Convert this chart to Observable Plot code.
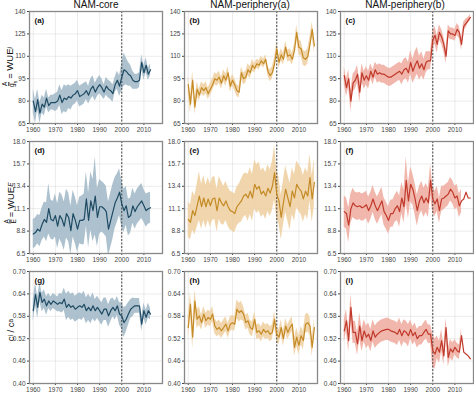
<!DOCTYPE html>
<html><head><meta charset="utf-8">
<script src="https://cdn.jsdelivr.net/npm/d3@7"></script>
<script src="https://cdn.jsdelivr.net/npm/@observablehq/plot@0.6"></script>
<style>
body{margin:0;background:#fff;font-family:"Liberation Sans",Arial,sans-serif;}
#fig{position:relative;width:474px;height:393px;overflow:hidden;}
.panel{position:absolute;}
.title{position:absolute;top:0px;font-size:10px;line-height:10px;color:#111;transform:translateX(-50%);white-space:nowrap;}
.ylab{position:absolute;font-size:9.5px;color:#111;transform:translate(-50%,-50%) rotate(-90deg);white-space:nowrap;display:flex;align-items:center;}
.frac{display:inline-flex;flex-direction:column;align-items:center;font-size:6.5px;line-height:6px;margin-right:2px;}
.frac span:first-child{border-bottom:0.6px solid #111;}
sub{font-size:6.5px;}
</style></head><body><div id="fig"></div><script>
const regions = ["NAM-core", "NAM-periphery(a)", "NAM-periphery(b)"];
const panelLabels = ["(a)","(b)","(c)","(d)","(e)","(f)","(g)","(h)","(i)"];
const xTicks = [1960, 1970, 1980, 1990, 2000, 2010];
const wueiTicks = [65, 80, 95, 110, 125, 140];
const wueeTicks = [6.5, 8.8, 11.1, 13.4, 15.7, 18.0];
const cicaTicks = [0.40, 0.46, 0.52, 0.58, 0.64, 0.70];
const breakYear = [2000];

// NAM-core: 1960-2013 ; periphery: 1960-2017
const coreWUEi = [80,73,81,72,78,76,82,77,79,79, 79,80,84,79,82,81,83,82,84,85, 87,83,84,85,87,84,88,90,86,89, 91,89,86,90,88,87,85,91,94,90, 96,101,100,98,97,94,93,93,94,106, 99,104,98,101];
const coreWUEiErr = [8,8,7,7,6,6,6,5,5,5, 6,6,7,8,9,9,8,8,7,7, 7,7,7,7,6,6,7,7,6,6, 6,6,5,6,6,6,6,5,6,7, 9,11,9,8,7,6,5,5,5,5, 5,5,4,4];
const perAWUEi = [91,78,94,76,88,84,89,87,89,85, 88,91,95,94,96,92,97,94,99,90, 94,91,87,86,99,95,96,101,99,104, 102,105,104,107,105,108,100,97,99,105, 115,106,111,108,116,110,111,108,114,126, 116,115,109,108,110,118,128,117];
const perAWUEiErr = [6,6,6,5,5,4,4,4,4,4, 4,4,4,4,4,4,4,4,4,4, 4,4,4,4,4,4,4,4,4,4, 3,3,3,3,3,3,3,4,4,4, 4,4,4,4,4,4,4,4,4,5, 5,5,5,5,5,5,5,5];
const perBWUEi = [97,89,95,80,92,94,98,86,99,94, 97,94,100,96,101,98,99,98,98,97, 96,96,97,98,99,100,98,101,102,99, 106,100,104,107,102,105,101,106,107,107, 121,124,118,126,123,118,110,127,125,125, 124,128,126,118,130,132,134,136];
const perBWUEiErr = [6,6,6,7,6,6,6,7,6,6, 6,6,5,5,5,6,6,6,6,6, 6,6,6,6,6,6,7,7,7,7, 8,8,9,9,8,8,7,7,6,6, 6,6,6,5,5,5,5,4,4,4, 4,4,4,4,3,3,2,2];

const coreWUEE = [8.5,8.65,9.0,8.8,9.5,10.0,9.7,11.1,10.0,9.85, 10.4,9.3,10.4,10.0,9.3,10.6,10.2,8.85,10.6,9.9, 9.0,9.9,9.9,10.0,12.1,9.9,11.9,10.9,12.4,10.2, 11.3,11.3,11.1,10.8,9.0,9.9,10.8,11.7,12.2,12.8, 11.6,10.9,11.4,10.2,10.4,11.4,10.8,11.3,11.6,11.9, 11.4,10.9,11.1,11.2];
const coreWUEEErr = [1.5,1.5,1.5,1.6,1.7,1.8,2.0,2.6,2.0,2.0, 2.2,2.3,2.4,2.5,2.5,2.5,2.5,2.5,2.4,2.4, 2.4,2.4,2.5,2.6,2.8,2.8,3.0,3.2,4.0,3.0, 2.8,2.6,2.6,2.6,2.8,2.8,2.8,2.6,2.5,2.4, 2.4,2.2,2.0,1.9,1.8,1.8,1.8,1.8,1.8,1.8, 1.7,1.7,1.6,1.6];
const perAWUEE = [10.0,9.7,10.9,10.4,11.4,12.4,11.3,12.2,11.3,12.1, 11.4,12.1,12.2,10.9,12.2,11.7,11.4,11.9,11.3,10.9, 10.8,10.6,11.3,11.6,11.9,12.4,12.6,12.2,12.9,12.2, 13.6,13.1,13.4,12.6,12.9,12.4,13.2,12.7,13.4,14.8, 12.6,11.9,10.2,11.7,13.1,12.2,11.3,12.9,12.2,13.6, 13.2,12.9,12.1,12.9,12.4,14.3,12.1,13.8];
const perAWUEEErr = [1.8,1.8,2.0,2.0,2.2,2.5,2.3,2.3,2.2,2.2, 2.2,2.2,2.2,2.2,2.2,2.2,2.0,2.0,2.0,2.0, 2.0,2.0,2.0,2.0,2.2,2.2,2.2,2.4,2.4,2.4, 2.5,2.5,2.5,2.4,2.4,2.4,2.4,2.4,2.5,2.8, 2.5,2.4,2.3,2.3,2.4,2.4,2.4,2.4,2.4,2.4, 2.4,2.4,2.4,2.4,2.4,2.4,2.4,2.4];
const perBWUEE = [10.8,10.6,9.4,11.1,11.7,11.4,11.3,11.4,11.2,11.3, 11.5,10.9,11.4,12.1,11.4,10.9,11.4,11.9,10.8,10.4, 9.9,10.6,10.6,11.1,11.4,10.8,12.2,11.3,14.0,11.9, 13.6,13.1,12.1,10.9,11.9,12.4,11.7,12.2,11.7,14.0, 12.1,11.6,12.1,10.9,12.1,12.2,12.4,12.6,13.1,12.8, 12.2,12.4,11.4,11.9,12.1,12.8,12.2,12.2];
const perBWUEEErr = [1.6,1.6,1.8,1.5,1.5,1.4,1.4,1.4,1.4,1.4, 1.4,1.4,1.4,1.4,1.4,1.4,1.4,1.4,1.4,1.4, 1.4,1.4,1.4,1.4,1.5,1.6,1.6,1.7,2.4,1.8, 1.8,1.6,1.6,1.6,1.5,1.5,1.5,1.5,1.5,1.6, 1.4,1.3,1.3,1.3,1.3,1.2,1.2,1.2,1.2,1.2, 1.2,1.2,1.2,1.2,null,null,null,null];

const coreCiCa = [0.595,0.639,0.604,0.644,0.617,0.626,0.608,0.621,0.612,0.621, 0.617,0.612,0.617,0.614,0.626,0.604,0.612,0.604,0.608,0.599, 0.604,0.608,0.604,0.612,0.595,0.604,0.595,0.608,0.595,0.604, 0.595,0.586,0.599,0.599,0.581,0.595,0.604,0.595,0.608,0.586, 0.581,0.563,0.572,0.586,0.599,0.604,0.608,0.608,0.608,0.559, 0.595,0.577,0.595,0.586];
const coreCiCaErr = [.03,.03,.03,.025,.025,.025,.025,.02,.02,.02, .02,.02,.025,.025,.03,.035,.035,.035,.035,.035, .035,.035,.035,.035,.035,.035,.035,.035,.03,.03, .03,.03,.03,.03,.03,.03,.025,.025,.025,.03, .035,.04,.035,.03,.025,.025,.02,.02,.02,.02, .02,.02,.02,.015];
const perACiCa = [0.55,0.613,0.524,0.621,0.572,0.581,0.563,0.586,0.568,0.577, 0.572,0.586,0.554,0.545,0.55,0.541,0.55,0.559,0.541,0.559, 0.563,0.559,0.599,0.59,0.595,0.586,0.563,0.568,0.55,0.545, 0.572,0.537,0.541,0.532,0.545,0.537,0.541,0.532,0.537,0.572, 0.532,0.524,0.55,0.52,0.554,0.537,0.55,0.559,0.497,0.524, 0.502,0.528,0.515,0.559,0.563,0.554,0.497,0.55];
const perACiCaErr = [.03,.03,.03,.03,.025,.025,.02,.02,.02,.02, .02,.02,.02,.02,.02,.02,.02,.02,.02,.02, .02,.02,.025,.025,.025,.02,.02,.02,.02,.02, .02,.02,.02,.02,.02,.02,.02,.02,.02,.02, .02,.02,.02,.02,.02,.02,.02,.02,.025,.025, .025,.025,.025,.025,.025,.025,.025,.025];
const perBCiCa = [0.541,0.568,0.515,0.604,0.537,0.537,0.506,0.554,0.515,0.541, 0.524,0.532,0.515,0.541,0.524,0.532,0.537,0.541,0.543,0.545, 0.545,0.541,0.539,0.537,0.532,0.545,0.528,0.541,0.537,0.528, 0.545,0.528,0.537,0.52,0.528,0.528,0.537,0.545,0.532,0.532, 0.488,0.479,0.497,0.484,0.515,0.474,0.55,0.47,0.493,0.484, 0.497,0.488,0.484,0.528,0.484,0.479,0.474,0.466];
const perBCiCaErr = [.03,.03,.03,.035,.03,.03,.03,.035,.03,.03, .03,.03,.03,.03,.03,.03,.03,.03,.03,.03, .03,.03,.03,.03,.03,.03,.03,.03,.03,.03, .025,.025,.025,.025,.025,.025,.025,.025,.025,.025, .045,.04,.03,.03,.03,.025,.025,.025,.025,.025, .02,.02,.02,.02,null,null,null,null];

const lineColors = ["#1f4a63", "#c48a25", "#c0392b"];
const bandColors = ["#9fb7c6", "#efcf9f", "#eeaa9e"];

const rows = [
  {ticks: wueiTicks, fmt: d => String(d), series: [[coreWUEi, coreWUEiErr],[perAWUEi, perAWUEiErr],[perBWUEi, perBWUEiErr]]},
  {ticks: wueeTicks, fmt: d => d.toFixed(1), series: [[coreWUEE, coreWUEEErr],[perAWUEE, perAWUEEErr],[perBWUEE, perBWUEEErr]]},
  {ticks: cicaTicks, fmt: d => d.toFixed(2), series: [[coreCiCa, coreCiCaErr],[perACiCa, perACiCaErr],[perBCiCa, perBCiCaErr]]}
];

const fig = document.getElementById("fig");
const colLeft = [29, 184, 340];
const rowTop = [11, 141, 271];
const FW = 133, FH = 112, ML = 30, MR = 4, MT = 4, MB = 14;

rows.forEach((row, r) => {
  row.series.forEach(([mean, err], c) => {
    const data = mean.map((v, i) => ({year: 1960 + i, v, lo: err[i] == null ? null : v - err[i], hi: err[i] == null ? null : v + err[i]}));
    const band = data.filter(d => d.lo != null);
    const svg = Plot.plot({
      width: ML + FW + MR, height: MT + FH + MB,
      marginLeft: ML, marginRight: MR, marginTop: MT, marginBottom: MB,
      style: {fontSize: "6.5px", fontFamily: "'Liberation Sans', Arial, sans-serif", color: "#444", background: "transparent", overflow: "visible"},
      x: {domain: [1958.3, 2018.4], ticks: xTicks, tickFormat: d => String(d), tickSize: 2, tickPadding: 1.5, label: null, grid: true},
      y: {domain: [row.ticks[0], row.ticks[row.ticks.length - 1]], ticks: row.ticks, tickFormat: row.fmt, tickSize: 2, tickPadding: 2, label: null, grid: true},
      marks: [
        Plot.areaY(band, {x: "year", y1: "lo", y2: "hi", fill: bandColors[c], fillOpacity: 0.85, clip: true}),
        Plot.ruleX(breakYear, {stroke: "#444", strokeDasharray: "2,1.5", strokeWidth: 1}),
        Plot.lineY(data, {x: "year", y: "v", stroke: lineColors[c], strokeWidth: 1.2, clip: true}),
        Plot.frame({stroke: "#888", strokeWidth: 1.3}),
        Plot.text([panelLabels[r * 3 + c]], {frameAnchor: "top-left", dx: 5, dy: 6, text: d => d, fontWeight: "bold", fontSize: 8, fill: "#111"})
      ]
    });
    svg.classList.add("panel");
    svg.style.left = (colLeft[c] - ML) + "px";
    svg.style.top = (rowTop[r] - MT) + "px";
    fig.appendChild(svg);
  });
});

const titleX = [96, 250, 405];
regions.forEach((t, i) => {
  const d = document.createElement("div");
  d.className = "title";
  d.style.left = titleX[i] + "px";
  d.textContent = t;
  fig.appendChild(d);
});

const ylabs = [
  {y: 67, html: '<span class="frac"><span>A</span><span>g<sub style="font-size:5px">s</sub></span></span>= WUE<sub><i>i</i></sub>'},
  {y: 203, html: '<span class="frac"><span>A</span><span>E</span></span>= WUE<sub><i>E</i></sub>'},
  {y: 330, html: 'c<sub>i</sub>&nbsp;/&nbsp;c<sub>a</sub>'}
];
ylabs.forEach(l => {
  const d = document.createElement("div");
  d.className = "ylab";
  d.style.left = "10px";
  d.style.top = l.y + "px";
  d.innerHTML = l.html;
  fig.appendChild(d);
});
</script></body></html>
